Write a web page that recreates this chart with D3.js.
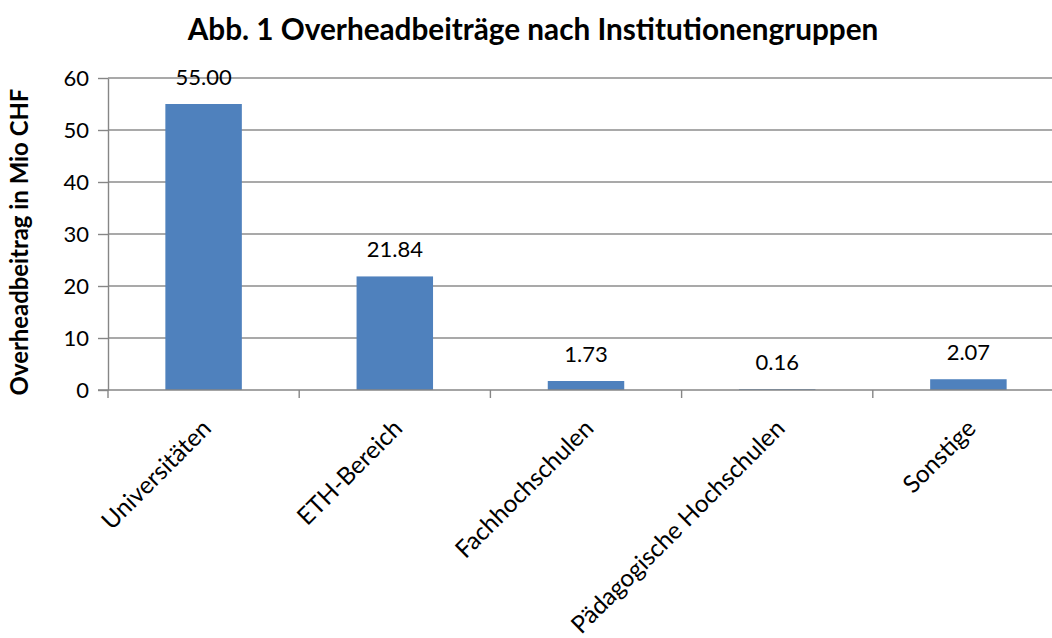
<!DOCTYPE html>
<html>
<head>
<meta charset="utf-8">
<script src="https://cdn.jsdelivr.net/npm/d3@7"></script>
<style>
  body { margin: 0; background: #fff; }
  svg text { font-family: Lato, "Open Sans", sans-serif; fill: #000; }
</style>
</head>
<body>
<svg id="chart" width="1052" height="638"></svg>
<script>
const categories = ['Universitäten', 'ETH-Bereich', 'Fachhochschulen', 'Pädagogische Hochschulen', 'Sonstige'];
const values = [55.00, 21.84, 1.73, 0.16, 2.07];
const yTicks = [0, 10, 20, 30, 40, 50, 60];
const title = 'Abb. 1 Overheadbeiträge nach Institutionengruppen';
const yTitle = 'Overheadbeitrag in Mio CHF';

const svg = d3.select('#chart');
const margin = { left: 108, right: -12, top: 78, bottom: 248 };
const W = 1052, H = 638;

const x = d3.scaleBand()
    .domain(categories)
    .range([margin.left, W - margin.right])
    .padding(0);

const y = d3.scaleLinear()
    .domain([0, 60])
    .range([H - margin.bottom, margin.top]);

// fit a text to a given width by scaling its font size
const fitText = (sel, target) => {
    const w = sel.node().getComputedTextLength();
    const fs = parseFloat(sel.attr('font-size'));
    sel.attr('font-size', fs * target / w);
};

// gridlines
svg.append('g')
    .selectAll('line')
    .data(yTicks.filter(d => d > 0))
    .enter()
    .append('line')
    .attr('x1', margin.left)
    .attr('x2', W - margin.right)
    .attr('y1', d => y(d))
    .attr('y2', d => y(d))
    .attr('stroke', '#8c8c8c')
    .attr('stroke-width', 1.4);

// bars
const barW = x.bandwidth() * 0.4;
svg.append('g')
    .selectAll('rect')
    .data(categories)
    .enter()
    .append('rect')
    .attr('x', d => x(d) + (x.bandwidth() - barW) / 2)
    .attr('width', barW)
    .attr('y', (d, i) => y(values[i]))
    .attr('height', (d, i) => y(0) - y(values[i]))
    .attr('fill', '#4f81bd');

// y axis
const yAxis = svg.append('g')
    .attr('transform', `translate(${margin.left},0)`)
    .call(d3.axisLeft(y).tickValues(yTicks).tickSize(10).tickPadding(9).tickSizeOuter(0));
yAxis.select('.domain').attr('stroke', '#868686').attr('stroke-width', 1.4);
yAxis.selectAll('.tick line').attr('stroke', '#868686').attr('stroke-width', 1.4);
yAxis.selectAll('.tick text')
    .attr('font-size', 22)
    .attr('font-family', 'Lato, sans-serif')
    .attr('fill', '#000');

// x axis line and ticks at category boundaries
const xAxisG = svg.append('g');
xAxisG.append('line')
    .attr('x1', margin.left - 10)
    .attr('x2', W - margin.right)
    .attr('y1', y(0))
    .attr('y2', y(0))
    .attr('stroke', '#868686')
    .attr('stroke-width', 1.4);
xAxisG.selectAll('line.tk')
    .data(categories)
    .enter()
    .append('line')
    .attr('class', 'tk')
    .attr('x1', d => x(d))
    .attr('x2', d => x(d))
    .attr('y1', y(0))
    .attr('y2', y(0) + 8)
    .attr('stroke', '#868686')
    .attr('stroke-width', 1.4);

// category labels
const catLabels = xAxisG.selectAll('text')
    .data(categories)
    .enter()
    .append('text')
    .attr('font-size', 22)
    .attr('text-anchor', 'end')
    .attr('dy', '0.35em')
    .attr('transform', d => `translate(${x(d) + x.bandwidth() / 2 + 3},${y(0) + 34}) rotate(-45)`)
    .text(d => d);
fitText(d3.select(catLabels.nodes()[3]), 290);
catLabels.attr('font-size', d3.select(catLabels.nodes()[3]).attr('font-size'));

// data labels
svg.append('g')
    .selectAll('text')
    .data(categories)
    .enter()
    .append('text')
    .attr('x', d => x(d) + x.bandwidth() / 2)
    .attr('y', (d, i) => y(values[i]) - 19)
    .attr('text-anchor', 'middle')
    .attr('font-size', 22)
    .text((d, i) => values[i].toFixed(2));

// title
const t = svg.append('text')
    .attr('x', 533)
    .attr('y', 40)
    .attr('text-anchor', 'middle')
    .attr('font-weight', 'bold')
    .attr('font-size', 25)
    .text(title);
fitText(t, 691);

// y axis title
const yt = svg.append('text')
    .attr('transform', `translate(28,${(y(0) + y(60)) / 2 + 8}) rotate(-90)`)
    .attr('text-anchor', 'middle')
    .attr('font-weight', 'bold')
    .attr('font-size', 21)
    .text(yTitle);
fitText(yt, 307);
</script>
</body>
</html>
